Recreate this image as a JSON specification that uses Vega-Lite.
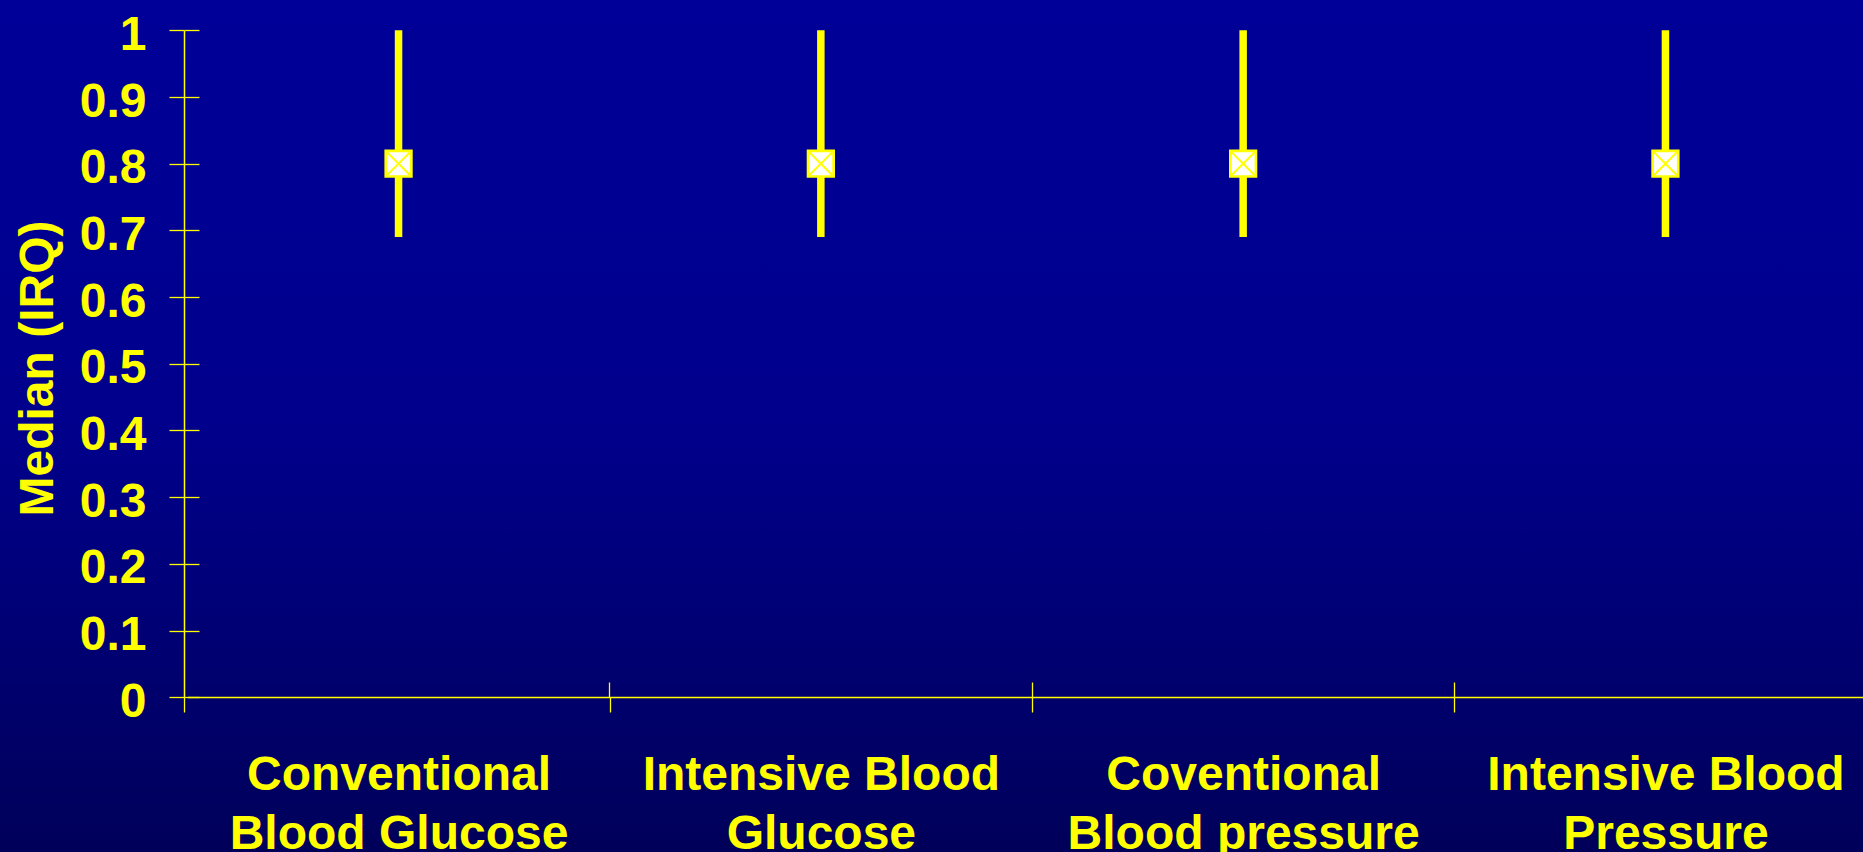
{
  "$schema": "https://vega.github.io/schema/vega-lite/v6.json",
  "width": 1863,
  "height": 852,
  "padding": 0,
  "autosize": {"type": "none"},
  "background": "#00007a",
  "config": {
    "view": {"stroke": null},
    "axis": {
      "grid": false,
      "labelFont": "Liberation Sans",
      "labelFontWeight": "bold",
      "labelFontSize": 48,
      "labelColor": "#ffff00",
      "titleFont": "Liberation Sans",
      "titleFontWeight": "bold",
      "titleFontSize": 48,
      "titleColor": "#ffff00",
      "domainColor": "#ffff00",
      "tickColor": "#ffff00",
      "domainWidth": 1.5,
      "tickWidth": 1.3,
      "labelLimit": 0,
      "titleLimit": 0,
      "labelOverlap": false
    }
  },
  "data": {
    "values": [
      {"group": "Conventional\nBlood Glucose", "median": 0.8, "q1": 0.69, "q3": 1.0},
      {"group": "Intensive Blood\nGlucose", "median": 0.8, "q1": 0.69, "q3": 1.0},
      {"group": "Coventional\nBlood pressure", "median": 0.8, "q1": 0.69, "q3": 1.0},
      {"group": "Intensive Blood\nPressure", "median": 0.8, "q1": 0.69, "q3": 1.0}
    ]
  },
  "layer": [
    {
      "data": {"values": [{}]},
      "mark": {
        "type": "rect",
        "zindex": 0,
        "fill": {
          "gradient": "linear",
          "x1": 0, "y1": 0, "x2": 0, "y2": 1,
          "stops": [
            {"offset": 0, "color": "#000098"},
            {"offset": 0.5, "color": "#00008c"},
            {"offset": 1, "color": "#00005a"}
          ]
        }
      },
      "encoding": {}
    },
    {
      "mark": {"type": "rule", "color": "#ffff00", "strokeWidth": 7.5, "zindex": 2},
      "encoding": {
        "x": {
          "field": "group", "type": "nominal", "sort": null,
          "scale": {"range": [187.4, 1876.6], "paddingInner": 0, "paddingOuter": 0},
          "axis": {
            "zindex": 1,
            "orient": "bottom", "offset": -155, "title": null, "tickSize": 15,
            "bandPosition": 1, "tickExtra": true,
            "tickOffset": {"expr": "datum.extra ? -3.1 : 0"},
            "labelPadding": 39,
            "labelLineHeight": 59, "labelAngle": 0,
            "labelExpr": "split(datum.label, '\\n')"
          }
        },
        "y": {
          "field": "q1", "type": "quantitative",
          "scale": {"domain": [0, 1], "range": [697.3, 30.3], "nice": false},
          "axis": {
            "zindex": 1,
            "orient": "left", "offset": -184,
            "values": [0, 0.1, 0.2, 0.3, 0.4, 0.5, 0.6, 0.7, 0.8, 0.9, 1],
            "format": "~g", "tickSize": 15, "labelPadding": 23, "labelOffset": 5,
            "title": "Median (IRQ)", "titleX": -132, "titleY": 368,
            "titleBaseline": "alphabetic", "titleAngle": -90, "titleAlign": "center"
          }
        },
        "y2": {"field": "q3"}
      }
    },
    {
      "mark": {"type": "point", "shape": "square", "filled": true, "fill": "#ffffff", "stroke": "#ffff00", "strokeWidth": 2.7, "size": 655, "opacity": 1, "zindex": 3},
      "encoding": {
        "x": {
          "field": "group", "type": "nominal", "sort": null,
          "axis": {
            "zindex": 1,
            "orient": "bottom", "offset": -170, "title": null, "tickSize": 15,
            "domain": false, "labels": false, "bandPosition": 1, "tickExtra": false
          }
        },
        "y": {
          "field": "median", "type": "quantitative",
          "axis": {
            "zindex": 1,
            "orient": "left", "offset": -199,
            "values": [0, 0.1, 0.2, 0.3, 0.4, 0.5, 0.6, 0.7, 0.8, 0.9, 1],
            "tickSize": 15, "domain": false, "labels": false, "title": null
          }
        }
      }
    },
    {
      "mark": {"type": "point", "shape": "M-1,-1L1,1M-1,1L1,-1", "filled": false, "stroke": "#ffff00", "strokeWidth": 2, "size": 560, "opacity": 1, "zindex": 4},
      "encoding": {
        "x": {"field": "group", "type": "nominal", "sort": null, "axis": null},
        "y": {"field": "median", "type": "quantitative", "axis": null}
      }
    }
  ],
  "resolve": {"axis": {"x": "independent", "y": "independent"}}
}
